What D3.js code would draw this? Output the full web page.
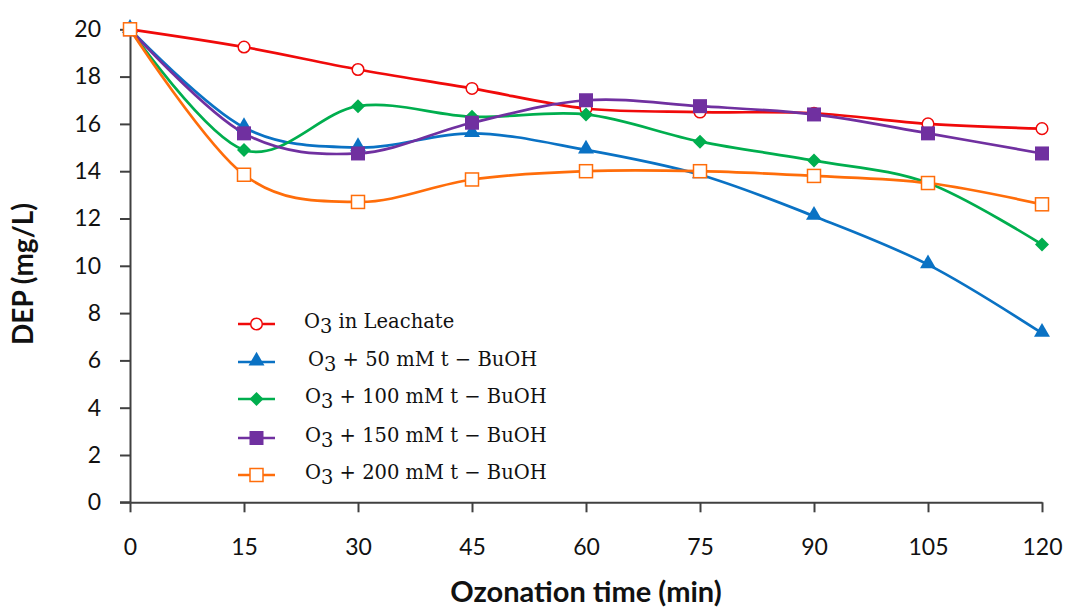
<!DOCTYPE html>
<html>
<head>
<meta charset="utf-8">
<script src="https://cdn.jsdelivr.net/npm/d3@7"></script>
<style>
  body { margin: 0; background: #fff; }
  svg { display: block; }
</style>
</head>
<body>
<div id="main"></div>
<script>
// ozonation chart: DEP vs time, five series

// data
var times = [0, 15, 30, 45, 60, 75, 90, 105, 120];
var leachate = [20, 19.25, 18.3, 17.5, 16.65, 16.5, 16.45, 16.0, 15.8];
var buoh50 = [20, 15.85, 15.0, 15.6, 14.9, 13.85, 12.1, 10.05, 7.15];
var buoh100 = [20, 14.9, 16.75, 16.3, 16.4, 15.25, 14.45, 13.5, 10.9];
var buoh150 = [20, 15.6, 14.75, 16.05, 17.0, 16.75, 16.4, 15.6, 14.75];
var buoh200 = [20, 13.85, 12.7, 13.65, 14.0, 14.0, 13.8, 13.5, 12.6];
var yTicks = [0, 2, 4, 6, 8, 10, 12, 14, 16, 18, 20];
var seriesNames = ['in Leachate', '+ 50 mM t \u2212 BuOH', '+ 100 mM t \u2212 BuOH',
                   '+ 150 mM t \u2212 BuOH', '+ 200 mM t \u2212 BuOH'];

// layout (plot box in pixels)
var W = 1069, H = 609,
    pLeft = 130, pRight = 1042, pTop = 29.3, pBottom = 502.3;

var svg = d3.select('#main').append('svg')
  .attr('width', W).attr('height', H);

var x = d3.scaleLinear().domain([0, 120]).range([pLeft, pRight]);
var y = d3.scaleLinear().domain([0, 20]).range([pBottom, pTop]);

var series = [
  {vals: leachate, color: '#F00A0A', marker: 'circle'},
  {vals: buoh50, color: '#0A72C4', marker: 'triangle'},
  {vals: buoh100, color: '#00AE4E', marker: 'diamond'},
  {vals: buoh150, color: '#7030A0', marker: 'square'},
  {vals: buoh200, color: '#FF6D0A', marker: 'osquare'}
];

var axisColor = '#404040';
var tickFont = 'Lato, "Open Sans", sans-serif';

// axes
var xAxis = svg.append('g').attr('transform', 'translate(0,' + pBottom + ')')
  .call(d3.axisBottom(x).tickValues(times).tickSize(10).tickSizeOuter(0).tickPadding(26));
var yAxis = svg.append('g').attr('transform', 'translate(' + pLeft + ',0)')
  .call(d3.axisLeft(y).tickValues(yTicks).tickSize(10).tickSizeOuter(0).tickPadding(19));

[xAxis, yAxis].forEach(function(a) {
  a.select('.domain').attr('stroke', axisColor).attr('stroke-width', 2);
  a.selectAll('.tick line').attr('stroke', axisColor).attr('stroke-width', 2);
  a.selectAll('.tick text').attr('fill', '#111').attr('font-size', 23)
    .attr('font-family', tickFont);
});
// x axis runs a little left of the y axis, like the original
svg.append('line')
  .attr('x1', pLeft - 10).attr('x2', pLeft).attr('y1', pBottom).attr('y2', pBottom)
  .attr('stroke', axisColor).attr('stroke-width', 2);

// axis titles
svg.append('text')
  .attr('x', 586).attr('y', 602)
  .attr('text-anchor', 'middle')
  .attr('font-family', 'Lato, sans-serif').attr('font-weight', 'bold')
  .attr('font-size', 29).attr('fill', '#111')
  .text('Ozonation time (min)');

svg.append('text')
  .attr('transform', 'translate(33,' + 274 + ') rotate(-90)')
  .attr('text-anchor', 'middle')
  .attr('font-family', 'Lato, sans-serif').attr('font-weight', 'bold')
  .attr('font-size', 28).attr('fill', '#111')
  .text('DEP (mg/L)');

// smoothed lines (Excel style)
var line = d3.line()
  .x(function(d, i) { return x(times[i]); })
  .y(function(d) { return y(d); })
  .curve(d3.curveCardinal.tension(0));

function drawMarker(g, type, cx, cy, color) {
  if (type == 'circle') {
    g.append('circle').attr('cx', cx).attr('cy', cy).attr('r', 5.8)
      .attr('fill', 'white').attr('stroke', color).attr('stroke-width', 1.5);
  } else if (type == 'triangle') {
    g.append('path')
      .attr('d', d3.symbol(d3.symbolTriangle, 110)())
      .attr('transform', 'translate(' + cx + ',' + (cy - 1) + ')')
      .attr('fill', color);
  } else if (type == 'diamond') {
    var s = 7;
    g.append('path')
      .attr('d', 'M' + cx + ',' + (cy - s) + 'L' + (cx + s) + ',' + cy +
                 'L' + cx + ',' + (cy + s) + 'L' + (cx - s) + ',' + cy + 'Z')
      .attr('fill', color);
  } else if (type == 'square') {
    g.append('rect').attr('x', cx - 7).attr('y', cy - 7)
      .attr('width', 14).attr('height', 14).attr('fill', color);
  } else {
    g.append('rect').attr('x', cx - 6.5).attr('y', cy - 6.5)
      .attr('width', 13).attr('height', 13)
      .attr('fill', 'white').attr('stroke', color).attr('stroke-width', 1.5);
  }
}

// lines first, then markers
var plot = svg.append('g');
series.forEach(function(s) {
  plot.append('path').datum(s.vals)
    .attr('d', line)
    .attr('fill', 'none').attr('stroke', s.color).attr('stroke-width', 2.7);
});
series.forEach(function(s) {
  var g = plot.append('g');
  s.vals.forEach(function(v, i) {
    drawMarker(g, s.marker, x(times[i]), y(v), s.color);
  });
});

// legend
var legY = [324, 362, 399, 438, 475],
    legTextX = [304, 308, 305, 305, 305];
var leg = svg.append('g');
series.forEach(function(s, i) {
  leg.append('line')
    .attr('x1', 238).attr('x2', 275).attr('y1', legY[i]).attr('y2', legY[i])
    .attr('stroke', s.color).attr('stroke-width', 2.7);
  drawMarker(leg, s.marker, 256.5, legY[i], s.color);
  var t = leg.append('text')
    .attr('x', legTextX[i]).attr('y', legY[i] + 4)
    .attr('font-family', '"DejaVu Serif", serif')
    .attr('font-size', 19.5).attr('fill', '#111');
  t.append('tspan').text('O');
  t.append('tspan').attr('dy', 5).text('3');
  t.append('tspan').attr('dy', -5).text(' ' + seriesNames[i]);
});
</script>
</body>
</html>
